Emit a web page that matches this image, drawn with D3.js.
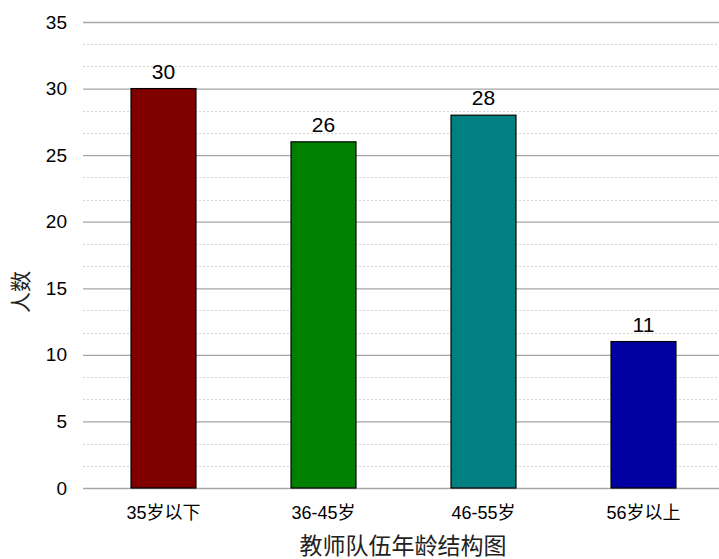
<!DOCTYPE html>
<html><head><meta charset="utf-8">
<script src="https://cdn.jsdelivr.net/npm/d3@7"></script>
<style>body{margin:0;background:#fff}svg{display:block}</style>
</head><body>
<script>
const categories = ["35岁以下", "36-45岁", "46-55岁", "56岁以上"];
const values = [30, 26, 28, 11];
const colors = ["#800000", "#008000", "#008080", "#0000A0"];
const yTicks = [0, 5, 10, 15, 20, 25, 30, 35];
const title = "教师队伍年龄结构图";
const yTitle = "人数";

const W = 719, H = 559;
const svg = d3.select("body").append("svg").attr("width", W).attr("height", H);
const font = "Arial, 'Liberation Sans', 'Noto Sans CJK SC', sans-serif";

const x = d3.scaleBand().domain(categories).range([83.5, 723.5]).paddingInner(0.594).paddingOuter(0.297);
const y = d3.scaleLinear().domain([0, 35]).range([488, 22]);

// minor dashed gridlines
const minor = d3.range(0, 35.001, 5 / 3).filter(v => Math.abs(v / 5 - Math.round(v / 5)) > 1e-6);
svg.append("g").selectAll("line").data(minor).join("line")
  .attr("x1", 83).attr("x2", W)
  .attr("y1", d => Math.round(y(d)) + 0.5).attr("y2", d => Math.round(y(d)) + 0.5)
  .attr("stroke", "#d4d4d4").attr("stroke-dasharray", "2,2");

// major grid + axis
const yAxis = d3.axisLeft(y).tickValues(yTicks).tickSize(-(W - 83)).tickPadding(16);
const gy = svg.append("g").attr("transform", "translate(83,0)").call(yAxis);
gy.select(".domain").remove();
gy.selectAll(".tick line").attr("stroke", "#a6a6a6").attr("stroke-width", 1.3);
gy.selectAll(".tick text").attr("font-family", font).attr("font-size", 19).attr("fill", "#000");

// bars
svg.append("g").selectAll("rect").data(values).join("rect")
  .attr("x", (d, i) => x(categories[i]))
  .attr("width", x.bandwidth())
  .attr("y", d => y(d))
  .attr("height", d => y(0) - y(d))
  .attr("fill", (d, i) => colors[i])
  .attr("stroke", "#000").attr("stroke-width", 1.2);

// value labels
svg.append("g").selectAll("text").data(values).join("text")
  .attr("x", (d, i) => x(categories[i]) + x.bandwidth() / 2)
  .attr("y", d => y(d) - 10)
  .attr("text-anchor", "middle")
  .attr("font-family", font).attr("font-size", 21).attr("fill", "#000")
  .text(d => d);

// x labels
const xAxis = d3.axisBottom(x).tickSize(0).tickPadding(18);
const gx = svg.append("g").attr("transform", "translate(0,488)").call(xAxis);
gx.select(".domain").remove();
gx.selectAll(".tick text").attr("font-family", font).attr("font-size", 18).attr("fill", "#000");

// title
svg.append("text").attr("x", 403).attr("y", 554).attr("text-anchor", "middle")
  .attr("font-family", font).attr("font-size", 23).attr("fill", "#222").text(title);

// y title
svg.append("text").attr("transform", "translate(28,292) rotate(-90)").attr("text-anchor", "middle")
  .attr("font-family", font).attr("font-size", 21).attr("fill", "#222").text(yTitle);
</script>
</body></html>
